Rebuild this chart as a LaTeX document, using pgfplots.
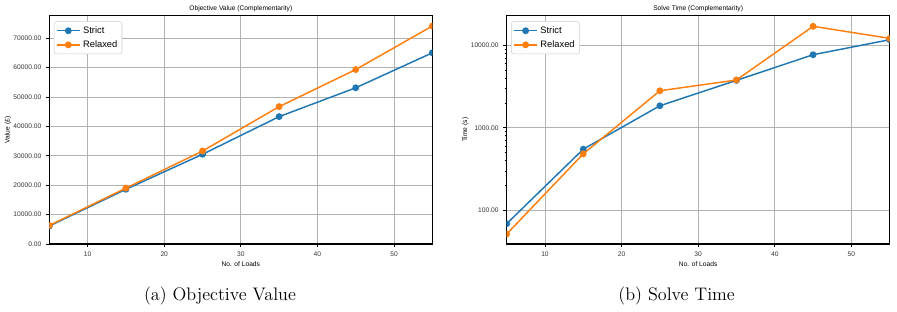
\documentclass[border=0pt]{standalone}
\usepackage{pgfplots}
\pgfplotsset{compat=1.18}
\usepackage{fontspec}
\newfontfamily\arial{Liberation Sans}
\definecolor{cA}{HTML}{1F77B4}
\definecolor{cB}{HTML}{FF7F0E}
\begin{document}
\begin{tikzpicture}
\useasboundingbox (0,0) rectangle (672.75pt,233.25pt);
\pgfplotsset{
  common/.style={
    scale only axis, width=287.25pt, height=171.2pt,
    anchor=south west,
    xmin=5, xmax=55, xtick={10,20,30,40,50},
    grid=major, major grid style={color=black!30, line width=0.6pt},
    axis line style={line width=0.8pt},
    tick align=outside, tick pos=left,
    major tick length=2.5pt, minor tick length=1.5pt,
    tick style={black, line width=0.5pt},
    /pgf/number format/assume math mode=true,
    tick label style={font=\arial\fontsize{5}{6}\selectfont, text=black!80},
    title style={font=\arial\fontsize{5}{6}\selectfont, yshift=-7pt},
    label style={font=\arial\fontsize{5}{6}\selectfont},
    xlabel={No. of Loads},
    xlabel style={yshift=3pt},
    ylabel style={at={(axis description cs:-0.108,0.5)}, anchor=center, rotate=0},
    legend style={at={(0.012,0.975)}, anchor=north west, draw=black!20, rounded corners=1.5pt,
      font=\arial\fontsize{7}{8}\selectfont, inner sep=1.5pt},
    legend cell align=left,
    clip marker paths=true,
  },
  sA/.style={color=cA, mark=*, mark size=2pt, line width=1.1pt, mark options={solid}},
  sB/.style={color=cB, mark=*, mark size=2pt, line width=1.1pt, mark options={solid}},
}
\begin{axis}[common, at={(37pt,50.25pt)},
  title={Objective Value (Complementarity)},
  ylabel={Value (£)},
  ymin=0, ymax=77600,
  ytick={0,10000,20000,30000,40000,50000,60000,70000},
  scaled y ticks=false,
  yticklabel style={/pgf/number format/.cd, fixed, fixed zerofill, precision=2, 1000 sep={}},
]
\addplot[sA] coordinates {(5,6100) (15,18600) (25,30500) (35,43300) (45,53100) (55,65000)};
\addlegendentry{Strict}
\addplot[sB] coordinates {(5,6300) (15,19000) (25,31600) (35,46700) (45,59300) (55,74100)};
\addlegendentry{Relaxed}
\end{axis}
\begin{axis}[common, at={(380pt,50.25pt)},
  title={Solve Time (Complementarity)},
  ylabel={Time (s)},
  ymode=log, ymin=39, ymax=22850,
  ytick={100,1000,10000}, yticklabels={100.00,1000.00,10000.00},
]
\addplot[sA] coordinates {(5,68.7) (15,551) (25,1850) (35,3760) (45,7690) (55,11700)};
\addlegendentry{Strict}
\addplot[sB] coordinates {(5,51.5) (15,483) (25,2810) (35,3800) (45,17000) (55,12150)};
\addlegendentry{Relaxed}
\end{axis}
\node at (165pt,11pt) {\fontsize{13.6}{16}\selectfont (a) Objective Value};
\node at (507.5pt,11pt) {\fontsize{13.6}{16}\selectfont (b) Solve Time};
\end{tikzpicture}
\end{document}
